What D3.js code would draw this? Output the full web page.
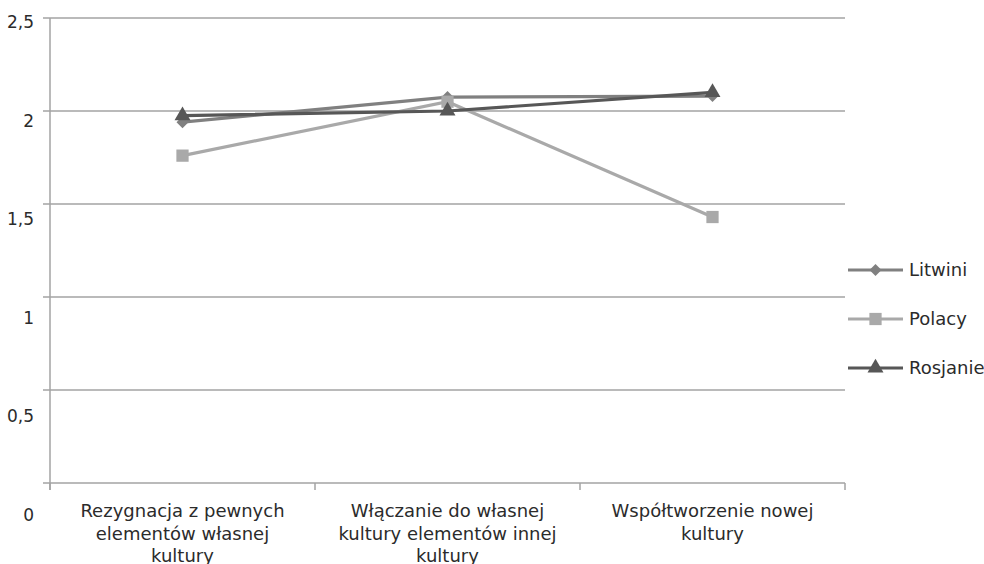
<!DOCTYPE html>
<html>
<head>
  <meta charset="utf-8">
  <title>Litwini, Polacy, Rosjanie</title>
  <script src="https://d3js.org/d3.v7.min.js"></script>
  <style>
    body { margin: 0; background: #fff; }
    text { font-family: "DejaVu Sans", sans-serif; fill: #2b2b2b; }
  </style>
</head>
<body>
<div id="chart"></div>
<script>
  // data
  var categories = [
    ["Rezygnacja z pewnych", "elementów własnej", "kultury"],
    ["Włączanie do własnej", "kultury elementów innej", "kultury"],
    ["Współtworzenie nowej", "kultury"]
  ];
  var seriesNames = ["Litwini", "Polacy", "Rosjanie"];
  var litwini = [1.94, 2.075, 2.08];
  var polacy = [1.76, 2.05, 1.43];
  var rosjanie = [1.975, 2.0, 2.1];
  var yTicks = [0, 0.5, 1, 1.5, 2, 2.5];
  var yTickLabels = ["0", "0,5", "1", "1,5", "2", "2,5"];

  var colors = ["#808080", "#a9a9a9", "#575757"];
  var allSeries = [litwini, polacy, rosjanie];

  // diamond = rotated square, like the office chart marker
  function marker(k) {
    if (k == 0) return { d: d3.symbol().type(d3.symbolSquare).size(72)(), rot: 45 };
    if (k == 1) return { d: d3.symbol().type(d3.symbolSquare).size(150)(), rot: 0 };
    return { d: d3.symbol().type(d3.symbolTriangle).size(110)(), rot: 0 };
  }

  var W = 984, H = 564;
  var svg = d3.select("#chart").append("svg")
      .attr("width", W)
      .attr("height", H);

  var x = d3.scaleBand()
      .domain(d3.range(categories.length))
      .range([50, 845]);

  var y = d3.scaleLinear()
      .domain([0, 2.5])
      .range([483, 18]);

  // the labels in the picture drift away from their gridlines
  var yLab = d3.scaleLinear()
      .domain([0, 2.5])
      .range([515, 22]);

  // gridlines
  svg.append("g").selectAll("line")
      .data(yTicks)
      .enter().append("line")
      .attr("x1", 43).attr("x2", 845)
      .attr("y1", function(d) { return y(d); })
      .attr("y2", function(d) { return y(d); })
      .attr("stroke", "#a3a3a3")
      .attr("stroke-width", 1.5);

  // y axis line
  svg.append("line")
      .attr("x1", 50).attr("x2", 50)
      .attr("y1", y(2.5)).attr("y2", 490)
      .attr("stroke", "#a3a3a3")
      .attr("stroke-width", 1.5);

  // x ticks
  var xTickPos = x.domain().map(function(d) { return x(d); }).concat([x.range()[1]]);
  svg.append("g").selectAll("line")
      .data(xTickPos)
      .enter().append("line")
      .attr("x1", function(d) { return d; })
      .attr("x2", function(d) { return d; })
      .attr("y1", y(0)).attr("y2", 490)
      .attr("stroke", "#a3a3a3")
      .attr("stroke-width", 1.5);

  // y labels
  svg.append("g").selectAll("text")
      .data(yTicks)
      .enter().append("text")
      .attr("x", 34)
      .attr("y", function(d) { return yLab(d); })
      .attr("dy", "0.35em")
      .attr("text-anchor", "end")
      .style("font-size", "17px")
      .text(function(d, i) { return yTickLabels[i]; });

  // category labels
  var cat = svg.append("g").selectAll("text")
      .data(categories)
      .enter().append("text")
      .attr("text-anchor", "middle")
      .style("font-size", "18px");
  cat.selectAll("tspan")
      .data(function(d, i) { return d.map(function(s) { return {s: s, i: i}; }); })
      .enter().append("tspan")
      .attr("x", function(d) { return x(d.i) + x.bandwidth() / 2; })
      .attr("y", function(d, j) { return 517 + j * 22.5; })
      .text(function(d) { return d.s; });

  // series
  var line = d3.line()
      .x(function(d, i) { return x(i) + x.bandwidth() / 2; })
      .y(function(d) { return y(d); });

  allSeries.forEach(function(vals, k) {
    var g = svg.append("g");
    var m = marker(k);
    g.append("path")
        .datum(vals)
        .attr("fill", "none")
        .attr("stroke", colors[k])
        .attr("stroke-width", 3.2)
        .attr("d", line);
    g.selectAll("path.pt")
        .data(vals)
        .enter().append("path")
        .attr("class", "pt")
        .attr("transform", function(d, i) {
          return "translate(" + (x(i) + x.bandwidth() / 2) + "," + y(d) + ") rotate(" + m.rot + ")";
        })
        .attr("d", m.d)
        .attr("fill", colors[k]);
  });

  // legend
  var leg = svg.append("g").selectAll("g")
      .data(seriesNames)
      .enter().append("g")
      .attr("transform", function(d, i) { return "translate(848," + (270 + i * 49) + ")"; });
  leg.append("line")
      .attr("x1", 0).attr("x2", 55)
      .attr("stroke", function(d, i) { return colors[i]; })
      .attr("stroke-width", 3.2);
  leg.append("path")
      .attr("transform", function(d, i) { return "translate(27.5,0) rotate(" + marker(i).rot + ")"; })
      .attr("d", function(d, i) { return marker(i).d; })
      .attr("fill", function(d, i) { return colors[i]; });
  leg.append("text")
      .attr("x", 61)
      .attr("dy", "0.35em")
      .style("font-size", "18px")
      .text(function(d) { return d; });
</script>
</body>
</html>
